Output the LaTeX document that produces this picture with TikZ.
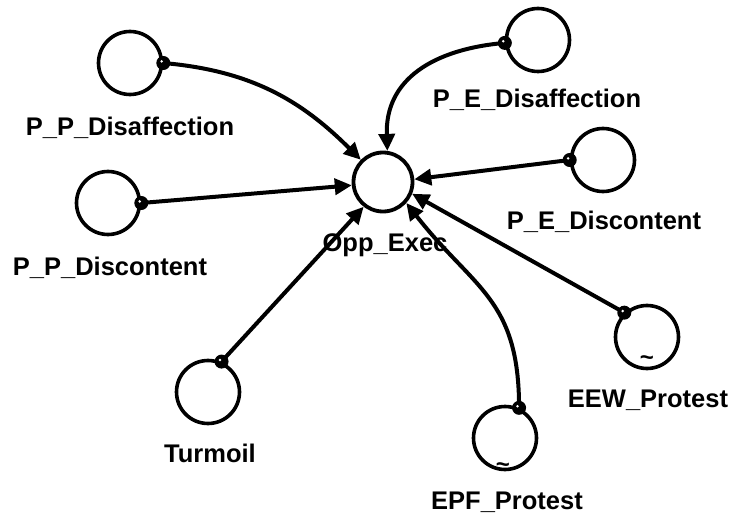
\documentclass[tikz,border=0pt]{standalone}
\usepackage{fontspec}
\setmainfont{Liberation Sans}
\usetikzlibrary{arrows.meta}
% small filled connector origin on a variable's border
\newcommand\linkdot[1]{\fill #1 circle (7pt); \fill[white] #1 ++(-1.6pt,1.6pt) circle (1.4pt);}
\begin{document}
\begin{tikzpicture}[x=1pt,y=1pt,
  var/.style={circle,draw,line width=3.6pt,minimum size=63pt,inner sep=0pt},
  target/.style={circle,draw,line width=3.8pt,minimum size=59pt,inner sep=0pt},
  lbl/.style={font=\bfseries\fontsize{25.5}{30}\selectfont,inner sep=0pt},
  tld/.style={font=\bfseries\fontsize{24}{24}\selectfont,inner sep=0pt},
  link/.style={line width=4pt,-{Triangle[length=17pt,width=16pt]}},
]
\useasboundingbox (0,0) rectangle (731,523);

% variables
\node[target] (opp)    at (383,341) {};
\node[var]    (ppdis)  at (130,460) {};
\node[var]    (ppdisc) at (108,320) {};
\node[var]    (turm)   at (208,131) {};
\node[var]    (pedis)  at (538,483) {};
\node[var]    (pedisc) at (603,363) {};
\node[var]    (eew)    at (647,186) {};
\node[var]    (epf)    at (505,85)  {};

% graphical-function marks
\node[tld] (eewt) at (647,162) {\textasciitilde};
\node[tld] (epft) at (503,55)  {\textasciitilde};

% labels
\node[lbl] (oppl)    at (385,278) {Opp\_Exec};
\node[lbl] (ppdisl)  at (130,395) {P\_P\_Disaffection};
\node[lbl] (ppdiscl) at (110,255) {P\_P\_Discontent};
\node[lbl] (turml)   at (210,70)  {Turmoil};
\node[lbl] (pedisl)  at (537,423) {P\_E\_Disaffection};
\node[lbl] (pediscl) at (604,301) {P\_E\_Discontent};
\node[lbl] (eewl)    at (648,123) {EEW\_Protest};
\node[lbl] (epfl)    at (507,21)  {EPF\_Protest};

% links into Opp_Exec
\draw[link] (ppdis.east) to[out=-5,in=135] (opp.135);
\draw[link] (ppdisc.east) -- (opp.186);
\draw[link] (turm.66) -- (opp.232);
\draw[link] (pedis.185) to[out=185,in=92,looseness=1.15] (opp.82);
\draw[link] (pedisc.west) -- (opp.5);
\draw[link] (eew.133) -- (opp.-22);
\draw[link] (epf.65) to[out=90,in=-52,looseness=1.2] (opp.-42);

% link origins
\linkdot{(ppdis.east)}
\linkdot{(ppdisc.east)}
\linkdot{(turm.66)}
\linkdot{(pedis.185)}
\linkdot{(pedisc.west)}
\linkdot{(eew.133)}
\linkdot{(epf.65)}
\end{tikzpicture}
\end{document}
